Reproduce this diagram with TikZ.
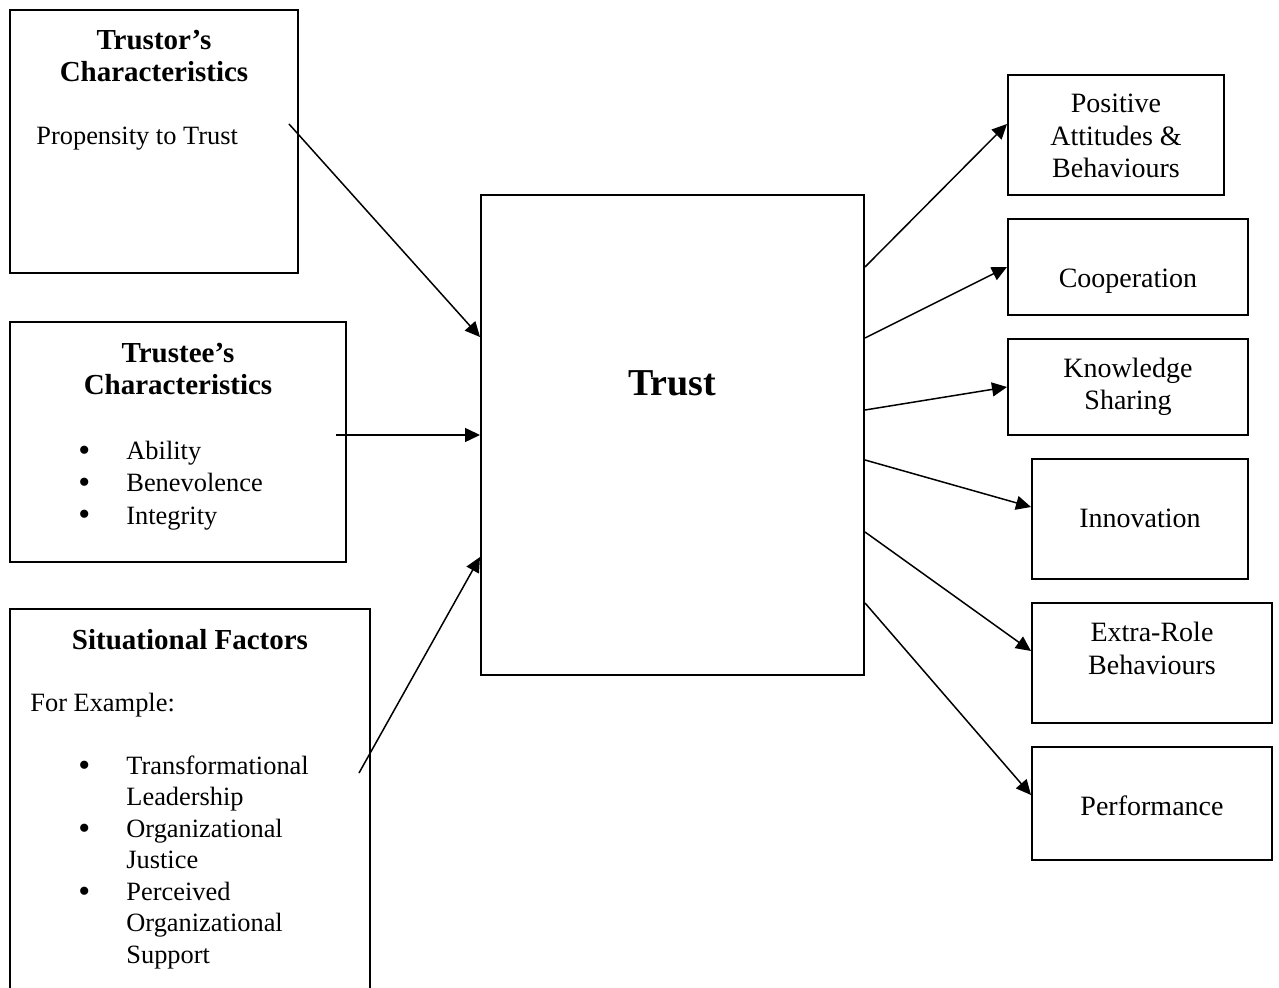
\documentclass[tikz,border=0pt]{standalone}
\usepackage{fontspec}
\setmainfont{Liberation Serif}
\usetikzlibrary{arrows.meta}
\begin{document}
\begin{tikzpicture}[x=0.5pt,y=-0.5pt,
  frame/.style n args={2}{draw,line width=1pt,inner sep=0pt,minimum width=#1pt,minimum height=#2pt},
  txt/.style={inner sep=0pt,font=\fontsize{14}{16.4}\selectfont,align=center},
  note/.style={inner sep=0pt,font=\fontsize{13.2}{16.2}\selectfont,anchor=base west},
  ttl/.style={inner sep=0pt,font=\fontsize{14.5}{16.4}\selectfont\bfseries,align=center},
  lst/.style={inner sep=0pt,font=\fontsize{13.2}{16.2}\selectfont,align=left,anchor=base west},
  link/.style={line width=0.75pt,-{Triangle[length=7.5pt,width=7pt]}}]
\useasboundingbox (0,0) rectangle (1279,988);
\newcommand{\bul}{\makebox[19pt][l]{\hspace{-5pt}\raisebox{-1pt}{\fontsize{17}{0}\selectfont•}}}
\newcommand{\ind}{\hspace{19pt}}

% left-hand boxes
\node[frame={144}{131.5}] (trustor) at (154,141.5) {};
\node[frame={168}{120}] (trustee) at (178,442) {};
\node[frame={180}{200.5}] (situ) at (190,809.5) {};

% central box
\node[frame={191.5}{240}] (trust) at (672.5,435) {};

% right-hand boxes
\node[frame={108}{60}] (pos) at (1116,135) {};
\node[frame={120}{48}] (coop) at (1128,267) {};
\node[frame={120}{48}] (know) at (1128,387) {};
\node[frame={108}{60}] (innov) at (1140,519) {};
\node[frame={120}{60}] (extra) at (1152,663) {};
\node[frame={120}{56.5}] (perf) at (1152,803.5) {};

% texts of the left-hand boxes (base = baseline of the last line)
\node[ttl,anchor=base] (trustorT) at (154,82) {Trustor’s\\Characteristics};
\node[note] (trustorL) at (36,145) {Propensity to Trust};
\node[ttl,anchor=base] (trusteeT) at (178,395) {Trustee’s\\Characteristics};
\node[lst] (trusteeL) at (88,524) {\bul Ability\\\bul Benevolence\\\bul Integrity};
\node[ttl,anchor=base] (situT) at (190,649) {Situational Factors};
\node[note] (situE) at (30,711) {For Example:};
\node[lst,font=\fontsize{13.2}{15.75}\selectfont] (situL) at (88,963)
  {\bul Transformational\\\ind Leadership\\\bul Organizational\\\ind Justice\\\bul Perceived\\\ind Organizational\\\ind Support};

% central text
\node[inner sep=0pt,font=\fontsize{19}{22}\selectfont\bfseries] (trustT) at (672,383) {Trust};

% texts of the right-hand boxes
\node[txt,anchor=base] (posT) at (1116,178) {Positive\\Attitudes \&\\Behaviours};
\node[txt,anchor=base] (coopT) at (1128,288) {Cooperation};
\node[txt,anchor=base] (knowT) at (1128,410) {Knowledge\\Sharing};
\node[txt,anchor=base] (innovT) at (1140,528) {Innovation};
\node[txt,anchor=base] (extraT) at (1152,674) {Extra-Role\\Behaviours};
\node[txt,anchor=base] (perfT) at (1152,815) {Performance};

% arrows into the central box
\coordinate (s1) at (trustor.east |- 0,124);   \coordinate (e1) at (trust.west |- 0,337);
\coordinate (s2) at (trustee.east |- 0,435);   \coordinate (e2) at (trust.west |- 0,435);
\coordinate (s3) at (situ.east |- 0,773);      \coordinate (e3) at (trust.west |- 0,557);
\draw[link] ([xshift=-5pt]s1) -- (e1);
\draw[link] ([xshift=-5.5pt]s2) -- (e2);
\draw[link] ([xshift=-6pt]s3) -- (e3);

% arrows out of the central box
\coordinate (o1) at (trust.east |- 0,267);  \coordinate (f1) at (pos.west |- 0,124);
\coordinate (o2) at (trust.east |- 0,338);  \coordinate (f2) at (coop.west |- 0,267);
\coordinate (o3) at (trust.east |- 0,410);  \coordinate (f3) at (know.west |- 0,387);
\coordinate (o4) at (trust.east |- 0,460);  \coordinate (f4) at (innov.west |- 0,507);
\coordinate (o5) at (trust.east |- 0,532);  \coordinate (f5) at (extra.west |- 0,651);
\coordinate (o6) at (trust.east |- 0,603);  \coordinate (f6) at (perf.west |- 0,795);
\foreach \i in {1,...,6} \draw[link] (o\i) -- (f\i);
\end{tikzpicture}
\end{document}
